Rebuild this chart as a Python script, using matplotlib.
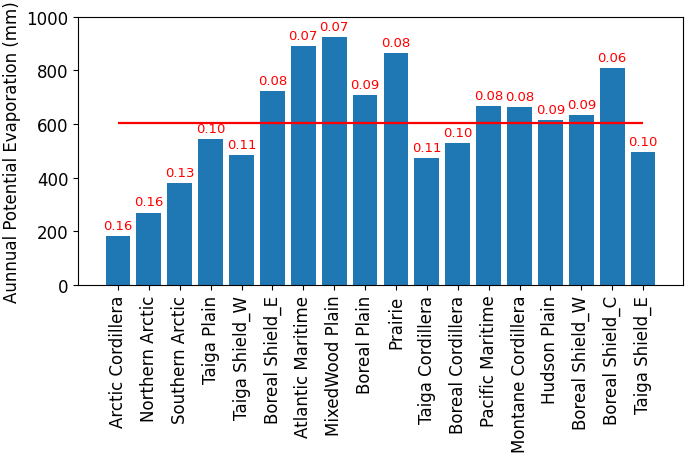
import matplotlib
matplotlib.use('Agg')
import matplotlib.pyplot as plt
import numpy as np

# 生态区名称
regions = ['Arctic Cordillera', 'Northern Arctic', 'Southern Arctic', 'Taiga Plain',
           'Taiga Shield_W', 'Boreal Shield_E', 'Atlantic Maritime', 'MixedWood Plain',
           'Boreal Plain', 'Prairie', 'Taiga Cordillera', 'Boreal Cordillera',
           'Pacific Maritime', 'Montane Cordillera', 'Hudson Plain', 'Boreal Shield_W',
           'Boreal Shield_C', 'Taiga Shield_E']
# 年潜在蒸发量 (mm)
pet = [181, 270, 381, 544, 486, 722, 892, 923, 709, 866, 472, 531, 666, 665, 615, 635, 809, 497]
# 柱顶标注的数值
ratio = [0.16, 0.16, 0.13, 0.10, 0.11, 0.08, 0.07, 0.07, 0.09, 0.08, 0.11, 0.10,
         0.08, 0.08, 0.09, 0.09, 0.06, 0.10]
mean_pet = 604

fig, ax = plt.subplots(figsize=(6.85, 4.56), dpi=100)
x = np.arange(len(regions))
ax.bar(x, pet, color='#1f77b4')
# 平均线
ax.hlines(mean_pet, x[0], x[-1], colors='red', linewidth=1.6)
for xi, v, r in zip(x, pet, ratio):
    ax.text(xi, v + 15, '%.2f' % r, ha='center', va='bottom', color='red', fontsize=9.5)

ax.set_xticks(x)
ax.set_xticklabels(regions, rotation=90, fontsize=12)
ax.tick_params(axis='y', labelsize=12)
ax.set_ylim(0, 1000)
ax.set_ylabel('Aunnual Potential Evaporation (mm)', fontsize=12)

fig.subplots_adjust(left=0.114, right=0.997, top=0.961, bottom=0.373)
fig.savefig('out.png')
